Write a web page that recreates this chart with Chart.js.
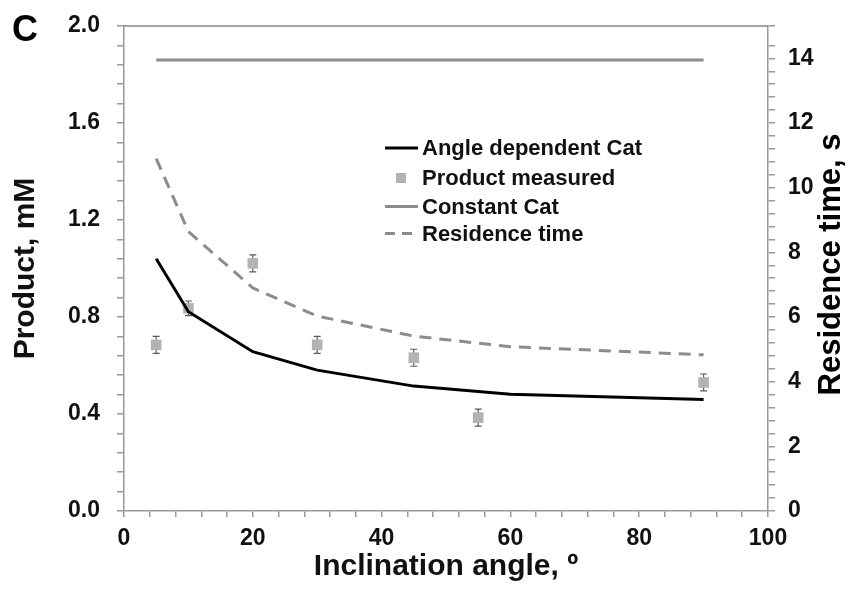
<!DOCTYPE html>
<html>
<head>
<meta charset="utf-8">
<script src="https://cdn.jsdelivr.net/npm/chart.js@4.4.1/dist/chart.umd.min.js"></script>
<style>
html, body { margin: 0; padding: 0; background: #fff; }
</style>
</head>
<body>
<canvas id="grafico" width="848" height="590"></canvas>
<script>
// valores
var angulos = [5, 10, 20, 30, 45, 60, 90];
var catAngulo = [1.04, 0.822, 0.657, 0.581, 0.515, 0.481, 0.46];
var residencia = [10.9, 8.64, 6.9, 6.03, 5.41, 5.08, 4.83];
var angulosMedidos = [5, 10, 20, 30, 45, 55, 90];
var medido = [0.685, 0.836, 1.021, 0.685, 0.632, 0.385, 0.53];
var erroMedido = [0.035, 0.03, 0.035, 0.035, 0.035, 0.035, 0.035];
var angulosConst = [5, 90];
var catConst = [1.86, 1.86];

var legendaTextos = ["Angle dependent Cat", "Product measured", "Constant Cat", "Residence time"];

var fonte = "'Liberation Sans', Arial, sans-serif";

function pontos(xs, ys) {
    return xs.map(function (x, i) { return { x: x, y: ys[i] }; });
}

// barras de erro dos pontos medidos
const barrasErro = {
    id: 'barrasErro',
    beforeDatasetsDraw(chart) {
        const ctx = chart.ctx;
        const meta = chart.getDatasetMeta(3);
        const ys = chart.scales.y;
        ctx.save();
        ctx.strokeStyle = '#5a5a5a';
        ctx.lineWidth = 1.2;
        meta.data.forEach(function (p, i) {
            const top = ys.getPixelForValue(medido[i] + erroMedido[i]);
            const bot = ys.getPixelForValue(medido[i] - erroMedido[i]);
            ctx.beginPath();
            ctx.moveTo(p.x, top); ctx.lineTo(p.x, bot);
            ctx.moveTo(p.x - 3.5, top); ctx.lineTo(p.x + 3.5, top);
            ctx.moveTo(p.x - 3.5, bot); ctx.lineTo(p.x + 3.5, bot);
            ctx.stroke();
        });
        ctx.restore();
    }
};

// moldura, legenda, letra do painel e titulo do eixo direito
const extras = {
    id: 'extras',
    afterDraw(chart) {
        const ctx = chart.ctx;
        const a = chart.chartArea;
        ctx.save();
        ctx.strokeStyle = '#888';
        ctx.lineWidth = 1.5;
        ctx.beginPath();
        ctx.moveTo(a.left, a.top);
        ctx.lineTo(a.right, a.top);
        ctx.stroke();

        ctx.fillStyle = '#000';
        ctx.font = "bold 36px " + fonte;
        ctx.textBaseline = 'middle';
        ctx.textAlign = 'left';
        ctx.fillText('C', 12, 31);

        ctx.font = "bold 31px " + fonte;
        ctx.textAlign = 'center';
        ctx.translate(831, (a.top + a.bottom) / 2 - 4);
        ctx.rotate(-Math.PI / 2);
        ctx.fillText('Residence time, s', 0, 0);
        ctx.restore();

        ctx.save();
        const x0 = a.left + 261;
        const y0 = a.top + 122;
        const dy = 28.5;
        ctx.font = "bold 22px " + fonte;
        ctx.textBaseline = 'middle';
        ctx.textAlign = 'left';
        for (let i = 0; i < 4; i++) {
            const y = y0 + i * dy + (i === 1 || i === 2 ? 1.5 : 0);
            ctx.lineWidth = 3;
            ctx.setLineDash([]);
            if (i === 0) {
                ctx.strokeStyle = '#000';
                ctx.beginPath(); ctx.moveTo(x0, y); ctx.lineTo(x0 + 33, y); ctx.stroke();
            } else if (i === 1) {
                ctx.fillStyle = '#b3b3b3';
                ctx.fillRect(x0 + 11, y - 5, 10, 10);
            } else if (i === 2) {
                ctx.strokeStyle = '#8c8c8c';
                ctx.beginPath(); ctx.moveTo(x0, y); ctx.lineTo(x0 + 33, y); ctx.stroke();
            } else {
                ctx.strokeStyle = '#8c8c8c';
                ctx.setLineDash([10, 7]);
                ctx.beginPath(); ctx.moveTo(x0, y); ctx.lineTo(x0 + 27, y); ctx.stroke();
            }
            ctx.fillStyle = '#111';
            ctx.fillText(legendaTextos[i], x0 + 37, y + 1);
        }
        ctx.restore();
    }
};

const config = {
    type: 'scatter',
    data: {
        datasets: [
            {
                label: legendaTextos[2],
                data: pontos(angulosConst, catConst),
                showLine: true,
                borderColor: '#8c8c8c',
                borderWidth: 3,
                pointRadius: 0,
                yAxisID: 'y'
            },
            {
                label: legendaTextos[3],
                data: pontos(angulos, residencia),
                showLine: true,
                borderColor: '#8c8c8c',
                borderWidth: 3,
                borderDash: [12, 8],
                pointRadius: 0,
                yAxisID: 'y2'
            },
            {
                label: legendaTextos[0],
                data: pontos(angulos, catAngulo),
                showLine: true,
                borderColor: '#000',
                borderWidth: 3,
                pointRadius: 0,
                yAxisID: 'y'
            },
            {
                label: legendaTextos[1],
                data: pontos(angulosMedidos, medido),
                showLine: false,
                pointStyle: 'rect',
                pointRadius: 7.5,
                backgroundColor: '#b3b3b3',
                borderColor: '#b3b3b3',
                borderWidth: 0,
                yAxisID: 'y'
            }
        ]
    },
    options: {
        responsive: false,
        animation: false,
        devicePixelRatio: 1,
        layout: { padding: { top: 26, left: 0, right: 0, bottom: 0 } },
        plugins: {
            legend: { display: false },
            tooltip: { enabled: false }
        },
        scales: {
            x: {
                type: 'linear',
                min: 0,
                max: 100,
                afterFit: function (s) { s.height = 79; s.paddingLeft = 0; s.paddingRight = 0; },
                border: { color: '#999', width: 1.5 },
                grid: { drawOnChartArea: false, tickLength: 6, color: '#999', lineWidth: 1.5 },
                ticks: {
                    stepSize: 4,
                    autoSkip: false,
                    maxRotation: 0,
                    padding: 8,
                    color: '#111',
                    font: { family: fonte, size: 23, weight: 'bold' },
                    callback: function (v, i) { return i % 5 === 0 ? Math.round(v) : ''; }
                },
                title: {
                    display: true,
                    text: 'Inclination angle, º',
                    color: '#111',
                    font: { family: fonte, size: 30, weight: 'bold' },
                    padding: { top: 0, bottom: 5 }
                }
            },
            y: {
                position: 'left',
                min: 0,
                max: 2,
                afterFit: function (s) { s.width = 124; s.paddingTop = 0; s.paddingBottom = 0; },
                border: { color: '#999', width: 1.5 },
                grid: { drawOnChartArea: false, tickLength: 7, color: '#999', lineWidth: 1.5 },
                ticks: {
                    stepSize: 0.08,
                    autoSkip: false,
                    padding: 17,
                    color: '#111',
                    font: { family: fonte, size: 23, weight: 'bold' },
                    callback: function (v, i) { return i % 5 === 0 ? v.toFixed(1) : ''; }
                },
                title: {
                    display: true,
                    text: 'Product, mM',
                    color: '#111',
                    font: { family: fonte, size: 30, weight: 'bold' },
                    padding: { top: 8, bottom: 0 }
                }
            },
            y2: {
                position: 'right',
                min: 0,
                max: 15,
                afterFit: function (s) { s.width = 80; s.paddingTop = 0; s.paddingBottom = 0; },
                border: { color: '#999', width: 1.5 },
                grid: { drawOnChartArea: false, tickLength: 7, color: '#999', lineWidth: 1.5 },
                ticks: {
                    stepSize: 0.4,
                    autoSkip: false,
                    padding: 13,
                    color: '#111',
                    font: { family: fonte, size: 23, weight: 'bold' },
                    callback: function (v, i) { return i % 5 === 0 ? Math.round(v) : ''; }
                }
            }
        }
    },
    plugins: [barrasErro, extras]
};

var grafico = new Chart(document.getElementById('grafico'), config);
</script>
</body>
</html>
